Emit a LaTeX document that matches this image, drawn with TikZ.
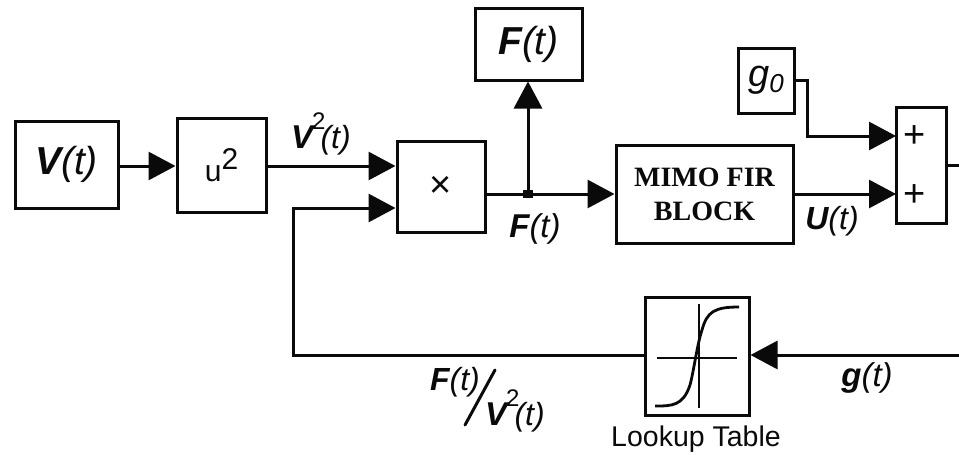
\documentclass[tikz,border=0pt]{standalone}
\usepackage{fontspec}
\setmainfont{Liberation Sans}
\newfontfamily\serifb{Liberation Serif}
\usetikzlibrary{arrows.meta,calc}
\definecolor{ink}{gray}{0.04}
\tikzset{
  x=1pt,y=-1pt,
  blockbox/.style={draw=ink,line width=3pt,fill=white,inner sep=0pt,text=ink},
  wire/.style={draw=ink,line width=3pt},
  flow/.style={wire,-{Triangle[length=27pt,width=28pt,inset=0pt]},shorten >=0pt},
  lbl/.style={inner sep=0pt,text=ink},
  big/.style={font=\fontsize{39}{41}\selectfont\itshape},
  med/.style={font=\fontsize{33}{35}\selectfont\itshape},
  vsq/.style={lbl,font=\fontsize{33}{35}\selectfont\itshape,anchor=west},
}
\newcommand{\bv}[1]{\textbf{#1}}
\newcommand{\vsqtext}{\bv{V}\kern-1pt\raisebox{19pt}{\upshape\fontsize{24}{26}\selectfont 2}\kern-5pt\fontsize{32}{34}\selectfont(t)}
\begin{document}
\begin{tikzpicture}
\useasboundingbox (0,0) rectangle (959,455);
\fill[white] (0,0) rectangle (959,455);
% blocks
\node[blockbox,big,minimum width=103pt,minimum height=87pt] (vt) at (66.5,164.5) {\raisebox{-5pt}{\bv{V}(t)}};
\node[blockbox,minimum width=89pt,minimum height=94pt,font=\fontsize{30}{32}\selectfont] (sq) at (221.5,165) {u\raisebox{12pt}{\fontsize{30}{32}\selectfont 2}};
\node[blockbox,minimum width=88pt,minimum height=91pt,font=\fontsize{38}{40}\selectfont] (mul) at (441,186.5) {\raisebox{-4pt}{×}};
\node[blockbox,big,minimum width=107pt,minimum height=72pt] (ftop) at (528.5,44) {\raisebox{-6pt}{\bv{F}(t)}};
\node[blockbox,minimum width=177pt,minimum height=98pt,align=center,font=\fontsize{28}{34}\selectfont\serifb\bfseries] (fir) at (704.5,194) {MIMO FIR\\BLOCK};
\node[blockbox,minimum width=56pt,minimum height=65pt,font=\fontsize{38}{40}\selectfont\itshape] (gz) at (766,80.5) {g\raisebox{-6pt}{\fontsize{26}{28}\selectfont\itshape 0}};
\node[blockbox,minimum width=50.5pt,minimum height=116pt] (sum) at (921.25,165) {};
\node[lbl,font=\fontsize{38}{40}\selectfont] (p1) at (915,137) {+};
\node[lbl,font=\fontsize{38}{40}\selectfont] (p2) at (915,196) {+};
\node[blockbox,minimum width=104pt,minimum height=118pt] (lut) at (697,356) {};
% lookup icon
\draw[ink,line width=2.8pt] (657,358) -- (737,358);
\draw[ink,line width=2.8pt] (699,304) -- (699,408);
\draw[ink,line width=2.8pt] (655,406) .. controls (672,406) and (683,406) .. (690,385)
   .. controls (694,370) and (697,345) .. (702,330)
   .. controls (707,312) and (714,307) .. (739,307);
% coordinates on block sides and junctions
\coordinate (mula) at (395.5,166);
\coordinate (mulb) at (395.5,208);
\coordinate (firin) at (614.5,194);
\coordinate (sumA) at (896,136);
\coordinate (sumB) at (896,194);
\coordinate (fout) at (793,194);
\coordinate (gzout) at (794,80);
\coordinate (gzbend) at (807,80);
\coordinate (gzbend2) at (807,136);
\coordinate (dot) at (528,194);
\coordinate (fbr) at (645,355);
\coordinate (fbc) at (293,355);
\coordinate (fbu) at (293,208);
\coordinate (gin) at (959,355);
\coordinate (sumout) at (959,165);
\coordinate (vr) at (118,166);
\coordinate (sqli) at (175.5,166);
\coordinate (sqr) at (266,166);
\coordinate (mulr) at (485,194);
\coordinate (lutr) at (750.5,355);
\coordinate (ftopb) at (528,81.5);
\coordinate (sumr) at (946.5,165);
% connectors
\draw[flow] (vr) -- (sqli);
\draw[flow] (sqr) -- (mula);
\draw[flow] (fbr) -- (fbc) -- (fbu) -- (mulb);
\draw[wire] (mulr) -- (dot);
\draw[flow] (dot) -- (firin);
\draw[flow] (dot) -- (ftopb);
\draw[flow] (gzout) -- (gzbend) -- (gzbend2) -- (sumA);
\draw[flow] (fout) -- (sumB);
\draw[wire] (sumr) -- (sumout);
\draw[flow] (gin) -- (lutr);
\fill[ink] ($(dot)+(-5,-4)$) rectangle ($(dot)+(5,4)$);
% labels
\node[vsq] (lv2) at (291,134) {\vsqtext};
\node[lbl,med] (lf) at (535,229) {\bv{F}(t)};
\node[lbl,font=\fontsize{32}{34}\selectfont\itshape] (lu) at (832,221) {\bv{U}(t)};
\node[lbl,med] (lg) at (867,378) {\bv{g}(t)};
\node[lbl,font=\fontsize{28.5}{30}\selectfont] (lt) at (696,439) {Lookup Table};
\node[lbl,font=\fontsize{32}{34}\selectfont\itshape] (ln) at (455,382) {\bv{F}(t)};
\node[vsq] (ld) at (485,411) {\vsqtext};
\coordinate (slt) at (495,370);
\coordinate (slb) at (465,425);
\draw[ink,line width=3pt,line cap=round] (slt) -- (slb);
\end{tikzpicture}
\end{document}
